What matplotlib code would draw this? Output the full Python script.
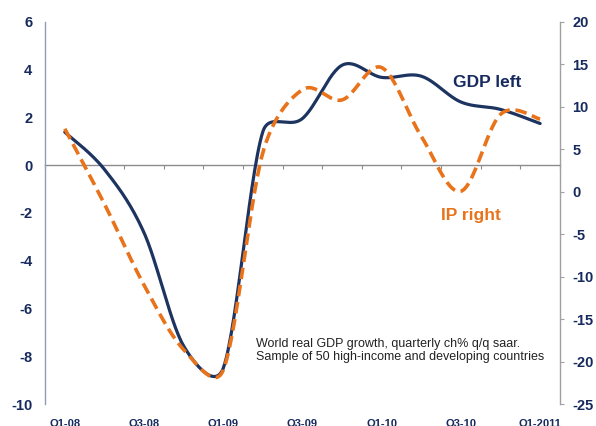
import matplotlib
matplotlib.use("Agg")
import matplotlib.pyplot as plt
import numpy as np

# quarterly data, Q1-08 .. Q1-11
quarters = ["Q1-08", "Q2-08", "Q3-08", "Q4-08", "Q1-09", "Q2-09", "Q3-09",
            "Q4-09", "Q1-10", "Q2-10", "Q3-10", "Q4-10", "Q1-2011"]
gdp = [1.38, -0.18, -2.83, -7.57, -8.5, 1.4, 1.95, 4.18, 3.67, 3.72, 2.64, 2.33, 1.74]
ip = [7.4, -1.45, -11.0, -18.6, -21.0, 4.6, 12.0, 10.8, 14.6, 6.5, 0.05, 9.1, 8.55]
label_quarters = ["Q1-08", "Q3-08", "Q1-09", "Q3-09", "Q1-10", "Q3-10", "Q1-2011"]

NAVY = "#1d3461"
LABEL = "#172a5e"
ORANGE = "#e8731a"


def smooth(a, xs, ys, n=30):
    # spreadsheet style smoothed line: bezier segments whose handles are
    # chord/6, capped at half the segment length (worked in screen space)
    pts = a.transData.transform(np.column_stack([xs, ys]))
    m = len(pts)
    out = [pts[:1]]
    t = np.linspace(0, 1, n)[1:, None]
    for i in range(m - 1):
        p0, p1 = pts[i], pts[i + 1]
        seg = np.hypot(*(p1 - p0))
        h1 = (p1 - pts[max(i - 1, 0)]) / 6
        h2 = (pts[min(i + 2, m - 1)] - p0) / 6
        for h in (h1, h2):
            L = np.hypot(*h)
            if L > seg / 2:
                h *= seg / 2 / L
        c1, c2 = p0 + h1, p1 - h2
        out.append((1 - t)**3 * p0 + 3 * (1 - t)**2 * t * c1
                   + 3 * (1 - t) * t**2 * c2 + t**3 * p1)
    data = a.transData.inverted().transform(np.vstack(out))
    return data[:, 0], data[:, 1]


plt.rcParams['font.family'] = ['Liberation Sans', 'DejaVu Sans']
plt.rcParams['axes.unicode_minus'] = False

fig = plt.figure(figsize=(5.96, 4.26), dpi=100)
ax = fig.add_axes([0.0755, 0.0516, 0.864, 0.8974])
ax2 = ax.twinx()

x = np.arange(len(quarters))
ax.set_xlim(-0.5, len(quarters) - 0.5)
ax.set_ylim(-10, 6)
ax2.set_ylim(-25, 20)
ax.set_yticks(np.arange(-10, 7, 2))
ax2.set_yticks(np.arange(-25, 21, 5))

gx, gy = smooth(ax, x, gdp)
ax.plot(gx, gy, color=NAVY, lw=2.3, solid_capstyle='round', zorder=3)

ix, iy = smooth(ax2, x, ip)
ax2.plot(ix, iy, color=ORANGE, lw=2.6, dashes=(3.2, 1.6), zorder=3)

# category labels every second quarter, under the plot
ax.set_xticks([quarters.index(q) for q in label_quarters])
ax.set_xticklabels(label_quarters)
ax.tick_params(axis='x', length=0, pad=10.5, labelsize=8, labelcolor=LABEL)
for t in ax.get_xticklabels():
    t.set_fontweight('bold')

ax.tick_params(axis='y', length=0, pad=9, labelsize=10.5, labelcolor=LABEL)
for t in ax.get_yticklabels():
    t.set_fontweight('bold')
ax2.tick_params(axis='y', length=3, width=0.8, color='#a0a0a0', pad=6,
                labelsize=10.5, labelcolor=LABEL)
for t in ax2.get_yticklabels():
    t.set_fontweight('bold')

for a in (ax, ax2):
    a.spines['top'].set_visible(False)
    a.spines['bottom'].set_visible(False)
ax.spines['left'].set_color('#8f9db5')
ax.spines['left'].set_linewidth(1.0)
ax2.spines['left'].set_visible(False)
ax2.spines['right'].set_color('#a0a0a0')
ax2.spines['right'].set_linewidth(1.0)
ax.spines['right'].set_visible(False)

# category axis crossing at zero, with ticks between categories
zx = ax.secondary_xaxis(0, transform=ax.transData)
zx.set_xticks(np.arange(len(quarters) + 1) - 0.5)
zx.set_xticklabels([])
zx.tick_params(axis='x', direction='out', length=3, width=0.8, color='#8c8c8c')
zx.spines['bottom'].set_color('#8c8c8c')
zx.spines['bottom'].set_linewidth(1.0)

ax2.text(0.858, 0.829, "GDP left", transform=ax.transAxes, fontsize=12.5,
         fontweight='bold', color=LABEL, ha='center', va='baseline')
ax2.text(0.828, 0.481, "IP right", transform=ax.transAxes, fontsize=12.5,
         fontweight='bold', color=ORANGE, ha='center', va='baseline')
ax2.text(0.410, 0.141, "World real GDP growth, quarterly ch% q/q saar.\n"
         "Sample of 50 high-income and developing countries",
         transform=ax.transAxes, fontsize=9, color='#222222',
         ha='left', va='center', linespacing=1.1)

fig.savefig("out.png", dpi=100)
